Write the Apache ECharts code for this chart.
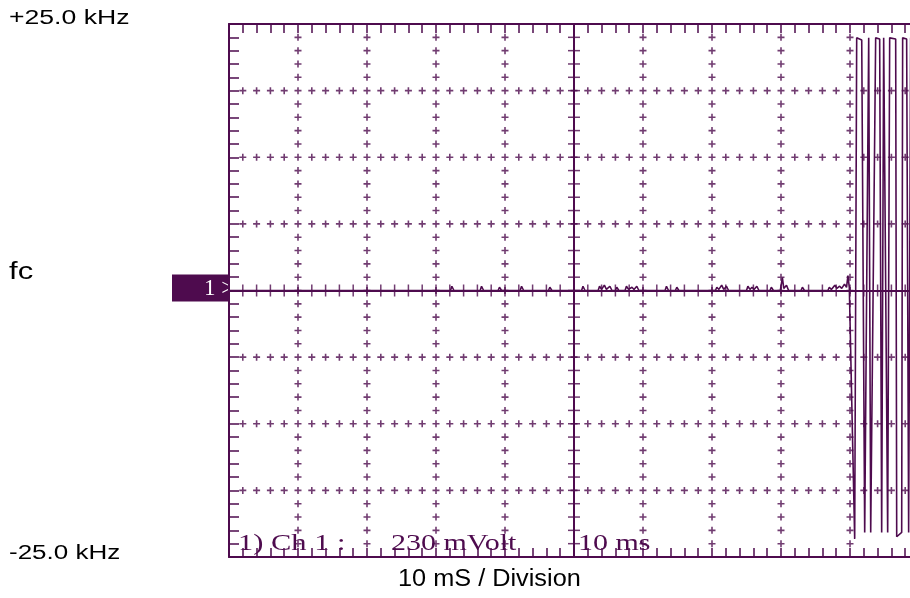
<!DOCTYPE html>
<html><head><meta charset="utf-8">
<script src="https://cdn.jsdelivr.net/npm/echarts@6/dist/echarts.min.js"></script>
<style>html,body{margin:0;padding:0;background:#fff}#c{width:910px;height:598px}</style>
</head><body><div id="c"></div>
<script>
// ---- axis setup (ms on x, kHz on y) ----
const xMin = 0, xMax = 100, xMajor = 10, xMinor = 2;
const yMin = -25, yMax = 25, yMajor = 6.25, yMinor = 1.25;
const yEdgeLabels = ['+25.0 kHz', 'fc', '-25.0 kHz'];
const xTitle = '10 mS / Division';
const channelMarker = '1 >';
const noteParts = ['1) Ch 1 :', '230 mVolt', '10 ms'];

// ---- trace (time in ms, deviation in kHz) ----
const traceTime = [0, 32.1, 32.3, 32.6, 36.4, 36.6, 36.9, 39.0, 39.2, 39.5, 42.2, 42.4, 42.7, 46.3, 46.5, 46.8,
  51.1, 51.3, 51.6, 53.5, 53.7, 54.0, 54.4, 54.7, 55.2, 55.5, 56.0, 56.2, 56.5, 57.4, 57.6, 57.9, 58.4, 58.7,
  59.1, 59.4, 63.2, 63.4, 63.7, 64.7, 64.9, 65.2, 70.5, 70.7, 71.0, 71.4, 71.7, 72.1, 72.4, 75.0, 75.2, 75.5,
  75.8, 76.1, 76.5, 76.8, 78.4, 78.6, 78.9, 79.9, 80.2, 80.4, 80.8, 81.1, 82.9, 83.1, 83.4, 86.8, 87.0, 87.3,
  87.8, 88.1, 88.5, 88.8, 89.2, 89.5, 89.7, 89.9,
  90.68, 90.97, 91.70, 92.13, 92.71, 93.00, 93.72, 94.30, 94.59, 94.88, 95.46, 95.75, 96.62, 96.77, 97.49,
  97.63, 98.21, 98.50, 98.79, 99.2];
const traceKHz = [0, 0, 0.4, 0, 0, 0.4, 0, 0, 0.3, 0, 0, 0.4, 0, 0, 0.3, 0,
  0, 0.4, 0, 0, 0.4, 0.1, 0.5, 0.1, 0.4, 0, 0, 0.3, 0, 0, 0.4, 0.1, 0.3, 0.1,
  0.4, 0, 0, 0.4, 0, 0, 0.3, 0, 0, 0.3, 0.1, 0.5, 0.1, 0.4, 0, 0, 0.4, 0.1,
  0.3, 0.1, 0.4, 0, 0, 0.3, 0, 0, 1.2, 0.2, 0.5, 0, 0, 0.3, 0, 0, 0.3, 0.1,
  0.5, 0.2, 0.4, 0.2, 0.6, 0.3, 1.4, 0.3,
  -23.3, 23.7, 23.5, -22.7, 23.7, -22.7, 23.7, 23.6, -22.7, 23.7, -22.7, 23.7, 23.6, -23.1, -22.7,
  23.7, 23.6, -22.7, 23.7, -22.8];

const PURPLE = '#4e0b4e';

function range(a, b, step) { const r = []; for (let v = a; v <= b + 1e-9; v += step) r.push(+v.toFixed(4)); return r; }
const xMinorTicks = range(xMin + xMinor, xMax - xMinor, xMinor);
const yMinorTicks = range(yMin + yMinor, yMax - yMinor, yMinor);
const xMajorLines = range(xMin + xMajor, xMax - xMajor, xMajor).filter(v => v !== 50);
const yMajorLines = range(yMin + yMajor, yMax - yMajor, yMajor).filter(v => v !== 0);

const dots = [];
xMajorLines.forEach(x => yMinorTicks.forEach(y => dots.push([x, y])));
yMajorLines.forEach(y => xMinorTicks.forEach(x => { if (!xMajorLines.includes(x)) dots.push([x, y]); }));
const centerXTicks = xMinorTicks.map(x => [x, 0]);
const centerYTicks = yMinorTicks.map(y => [50, y]);

const trace = traceTime.map((t, i) => [t, traceKHz[i]]);

const plus = 'path://M0,2.7H7V4.3H0Z M2.7,0H4.3V7H2.7Z';

const chart = echarts.init(document.getElementById('c'), null, { renderer: 'canvas' });
const axisCommon = {
  type: 'value', min: xMin, max: xMax, interval: xMinor,
  axisLine: { show: true, onZero: false, lineStyle: { color: PURPLE, width: 2 } },
  axisTick: { show: true, inside: true, length: 9, lineStyle: { color: PURPLE, width: 1.5 } },
  axisLabel: { show: false }, splitLine: { show: false }
};
chart.setOption({
  animation: false,
  backgroundColor: '#fff',
  grid: { left: 229, top: 24, width: 690, height: 533, outerBoundsMode: 'none', containLabel: false },
  xAxis: [
    Object.assign({}, axisCommon, { position: 'bottom' }),
    Object.assign({}, axisCommon, { position: 'top' })
  ],
  yAxis: [{
    type: 'value', min: yMin, max: yMax, interval: yMinor, position: 'left',
    axisLine: { show: true, onZero: false, lineStyle: { color: PURPLE, width: 2 } },
    axisTick: { show: true, inside: true, length: 10, lineStyle: { color: PURPLE, width: 1.5 } },
    axisLabel: { show: false }, splitLine: { show: false }
  }],
  series: [
    { type: 'scatter', silent: true, symbol: plus, symbolSize: [7, 7], data: dots,
      itemStyle: { color: PURPLE }, emphasis: { disabled: true } },
    { type: 'scatter', silent: true, symbol: 'rect', symbolSize: [1.5, 12], data: centerXTicks,
      itemStyle: { color: PURPLE }, emphasis: { disabled: true } },
    { type: 'scatter', silent: true, symbol: 'rect', symbolSize: [12, 1.5], data: centerYTicks,
      itemStyle: { color: PURPLE }, emphasis: { disabled: true } },
    { type: 'line', silent: true, data: trace, showSymbol: false, symbol: 'none',
      lineStyle: { color: PURPLE, width: 1.6 }, emphasis: { disabled: true },
      markLine: { silent: true, symbol: 'none', label: { show: false },
        lineStyle: { color: PURPLE, width: 2, type: 'solid' },
        data: [{ xAxis: 50 }, { yAxis: 0 }] } }
  ]
});

const p0 = chart.convertToPixel({ gridIndex: 0 }, [0, 0]);
const pTop = chart.convertToPixel({ gridIndex: 0 }, [0, yMax]);
const pBot = chart.convertToPixel({ gridIndex: 0 }, [0, yMin]);
const sans = '"Liberation Sans", Arial, sans-serif';
const serif = '"Liberation Serif", "Times New Roman", serif';
chart.setOption({
  graphic: [
    { type: 'text', x: 9, y: pTop[1] - 16, scaleX: 1.33, style: { text: yEdgeLabels[0], font: '20px ' + sans, fill: '#000' } },
    { type: 'text', x: 9, y: p0[1] - 29, scaleX: 1.35, style: { text: yEdgeLabels[1], font: '23px ' + sans, fill: '#000' } },
    { type: 'text', x: 9, y: pBot[1] - 14, scaleX: 1.3, style: { text: yEdgeLabels[2], font: '20px ' + sans, fill: '#000' } },
    { type: 'text', x: 398, y: 568, scaleX: 1.1, style: { text: xTitle, font: '23px ' + sans, fill: '#000' } },
    { type: 'rect', shape: { x: 172, y: p0[1] - 16, width: p0[0] - 172, height: 27 }, style: { fill: PURPLE } },
    { type: 'text', x: 204, y: p0[1] - 13, style: { text: channelMarker, font: '23px ' + serif, fill: '#fff' } },
    { type: 'text', x: 238, y: 532, scaleX: 1.27, style: { text: noteParts[0], font: '24px ' + serif, fill: PURPLE } },
    { type: 'text', x: 391, y: 532, scaleX: 1.25, style: { text: noteParts[1], font: '24px ' + serif, fill: PURPLE } },
    { type: 'text', x: 578, y: 532, scaleX: 1.25, style: { text: noteParts[2], font: '24px ' + serif, fill: PURPLE } }
  ]
});
</script></body></html>
